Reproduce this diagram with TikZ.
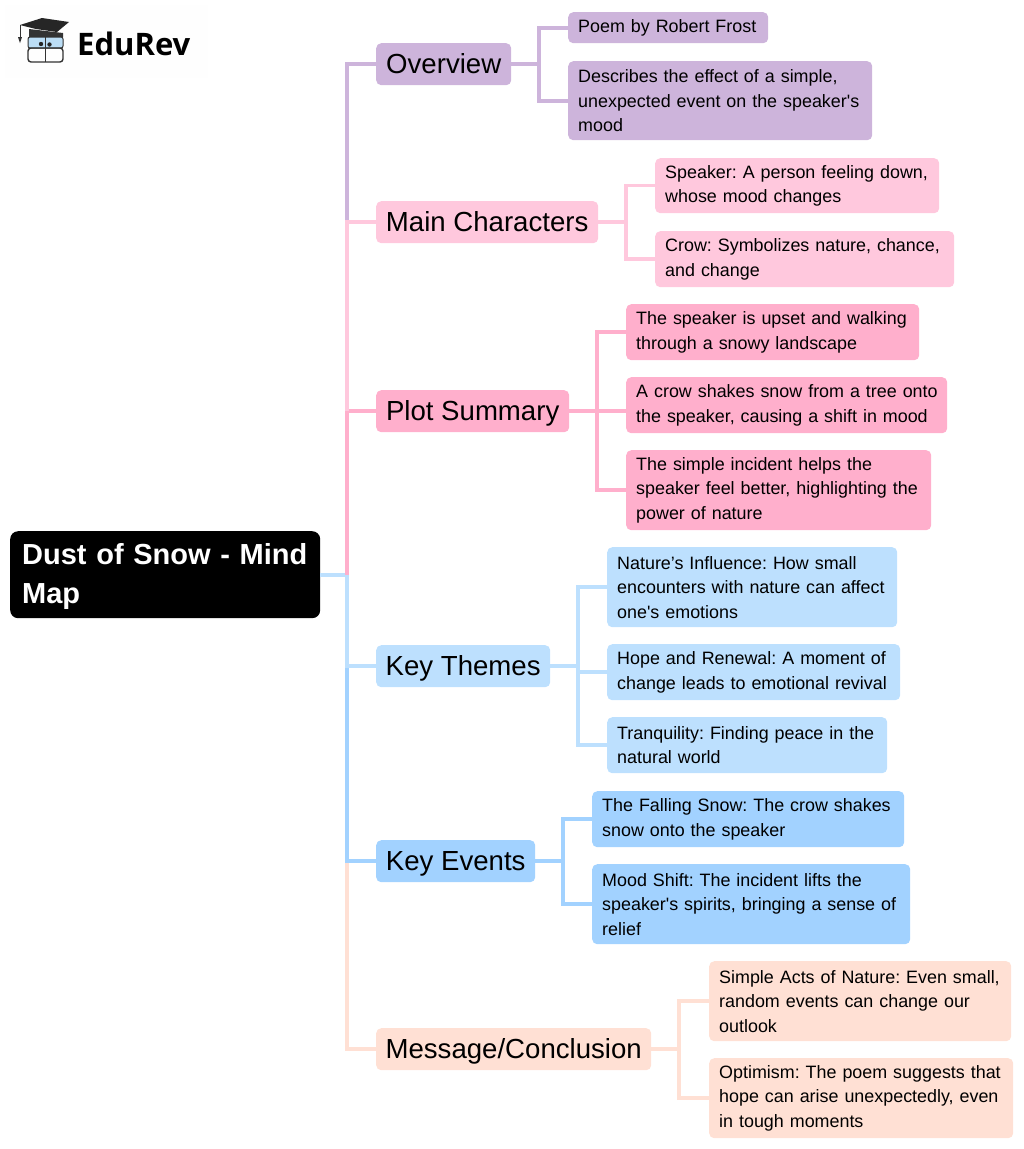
\documentclass[tikz,border=0pt]{standalone}
\usepackage{fontspec}
\setmainfont{Liberation Sans}
\newfontfamily\plainfont{Liberation Sans}
\newfontfamily\logofont{Open Sans}
\frenchspacing
\definecolor{cpurple}{HTML}{CDB4DB}
\definecolor{cpink}{HTML}{FFC8DD}
\definecolor{chot}{HTML}{FFAFCC}
\definecolor{clight}{HTML}{BDE0FE}
\definecolor{cblue}{HTML}{A2D2FF}
\definecolor{cpeach}{HTML}{FFE0D4}
\definecolor{cglass}{HTML}{BBDDF5}
\definecolor{clogo}{HTML}{FEFEFE}
\tikzset{
  bx/.style n args={2}{anchor=north west,inner xsep=0pt,inner ysep=0pt,rounded corners=5pt,
     text width=#1pt,minimum height=#2pt,align=left,execute at begin node={\leftskip=10pt}},
  tbx/.style n args={2}{anchor=north west,inner xsep=0pt,inner ysep=0pt,rounded corners=5pt,
     minimum width=#1pt,minimum height=#2pt,text height=20pt,text depth=1pt},
  leaf/.style={font=\plainfont\frenchspacing\fontsize{17.9}{24.4}\selectfont,text=black},
  topic/.style={font=\plainfont\fontsize{27.6}{32}\selectfont,text=black},
  rootbox/.style={anchor=north west,inner xsep=12pt,inner ysep=0pt,rounded corners=8pt,
     text width=286pt,minimum height=87pt,align=left,
     fill=black,text=white,font=\plainfont\frenchspacing\fontsize{29}{38.5}\selectfont\bfseries},
  link/.style={line width=#1,miter limit=10},
  link/.default=4pt,
}
\begin{document}
\begin{tikzpicture}[x=1pt,y=-1pt]
\useasboundingbox (0,0) rectangle (1024,1149);
% logo
\fill[clogo] (5,5) rectangle (208,78);
\fill[black!85] (20,25) -- (42,18) -- (69,22) -- (57,32) -- (36,29) -- cycle;
\fill[black!80] (29,29) -- (63,33) -- (63,37) -- (29,37) -- cycle;
\draw[black!80,line width=1pt] (20,25) -- (20,38);
\fill[black!80] (18,37) -- (22,37) -- (20,43) -- cycle;
\draw[black!80,fill=cglass,line width=1pt,rounded corners=2pt] (28,37) rectangle (63,48);
\draw[black!80,line width=1.4pt,rounded corners=3pt] (28,48) rectangle (63,62);
\draw[black!80,line width=1pt] (45,37) -- (45,62);
\fill[black!85] (41,44) circle (2.2pt) (49.5,44.5) circle (2.2pt);
\node[anchor=west,inner sep=0pt,font=\logofont\bfseries\fontsize{31}{36}\selectfont,text=black] (logo) at (77,44) {EduRev};
% root
\node[rootbox] (root) at (10,531) {\rule{0pt}{25pt}Dust of Snow - Mind\\Map};
% topics
\node[tbx={135}{42},topic,fill=cpurple] (ov) at (376,43) {Overview};
\node[tbx={222}{42},topic,fill=cpink] (mc) at (376,201) {Main Characters};
\node[tbx={193}{42},topic,fill=chot] (ps) at (376,390) {Plot Summary};
\node[tbx={174}{42},topic,fill=clight] (kt) at (376,645) {Key Themes};
\node[tbx={159}{42},topic,fill=cblue] (ke) at (376,840) {Key Events};
\node[tbx={275}{42},topic,fill=cpeach] (mg) at (376,1028) {Message/Conclusion};
% leaves
\node[bx={200}{31},leaf,fill=cpurple] (ov1) at (568,12) {Poem by Robert Frost};
\node[bx={304}{79},leaf,fill=cpurple] (ov2) at (568,61) {Describes the effect of a simple,\\unexpected event on the speaker's\\mood};
\node[bx={284}{55},leaf,fill=cpink] (mc1) at (655,158) {Speaker: A person feeling down,\\whose mood changes};
\node[bx={299}{56},leaf,fill=cpink] (mc2) at (655,231) {Crow: Symbolizes nature, chance,\\and change};
\node[bx={293}{56},leaf,fill=chot] (ps1) at (626,304) {The speaker is upset and walking\\through a snowy landscape};
\node[bx={321}{56},leaf,fill=chot] (ps2) at (626,377) {A crow shakes snow from a tree onto\\the speaker, causing a shift in mood};
\node[bx={305}{80},leaf,fill=chot] (ps3) at (626,450) {The simple incident helps the\\speaker feel better, highlighting the\\power of nature};
\node[bx={290}{80},leaf,fill=clight] (kt1) at (607,547) {Nature’s Influence: How small\\encounters with nature can affect\\one's emotions};
\node[bx={293}{56},leaf,fill=clight] (kt2) at (607,644) {Hope and Renewal: A moment of\\change leads to emotional revival};
\node[bx={280}{56},leaf,fill=clight] (kt3) at (607,717) {Tranquility: Finding peace in the\\natural world};
\node[bx={312}{56},leaf,fill=cblue] (ke1) at (592,791) {The Falling Snow: The crow shakes\\snow onto the speaker};
\node[bx={318}{80},leaf,fill=cblue] (ke2) at (592,864) {Mood Shift: The incident lifts the\\speaker's spirits, bringing a sense of\\relief};
\node[bx={302}{80},leaf,fill=cpeach] (mg1) at (709,961) {Simple Acts of Nature: Even small,\\random events can change our\\outlook};
\node[bx={304}{80},leaf,fill=cpeach] (mg2) at (709,1058) {Optimism: The poem suggests that\\hope can arise unexpectedly, even\\in tough moments};
% trunk connectors, later ones lying over earlier ones
\coordinate (trunk) at (347,574);
\draw[link,cpurple] (root.east) -- (root.east -| trunk) |- (ov.west);
\draw[link,cpeach] (root.east) -- (root.east -| trunk) |- (mg.west);
\draw[link,cblue] (root.east) -- (root.east -| trunk) |- (ke.west);
\draw[link,clight] (root.east) -- (root.east -| trunk) |- (kt.west);
\draw[link,chot] (root.east -| trunk) |- (ps.west);
\draw[link,cpink] (ps.west -| trunk) |- (mc.west);
% branch elbows
\coordinate (eov) at (539,0);
\coordinate (emc) at (626,0);
\coordinate (eps) at (597,0);
\coordinate (ekt) at (578,0);
\coordinate (eke) at (563,0);
\coordinate (emg) at (679,0);
\draw[link,cpurple] (ov.east) -- (ov.east -| eov) |- (ov1.west);
\draw[link,cpurple] (ov.east -| eov) |- (ov2.west);
\draw[link=3.5pt,cpink] (mc.east) -- (mc.east -| emc) |- (mc1.west);
\draw[link=3.5pt,cpink] (mc.east -| emc) |- (mc2.west);
\draw[link,chot] (ps.east) -- (ps.east -| ps2.west);
\draw[link,chot] (ps.east -| eps) |- (ps1.west);
\draw[link,chot] (ps.east -| eps) |- (ps3.west);
\draw[link,clight] (kt.east) -- (kt.east -| ekt) |- (kt1.west);
\draw[link,clight] (kt.east -| ekt) |- (kt2.west);
\draw[link,clight] (kt.east -| ekt) |- (kt3.west);
\draw[link,cblue] (ke.east) -- (ke.east -| eke) |- (ke1.west);
\draw[link,cblue] (ke.east -| eke) |- (ke2.west);
\draw[link=3.5pt,cpeach] (mg.east) -- (mg.east -| emg) |- (mg1.west);
\draw[link=3.5pt,cpeach] (mg.east -| emg) |- (mg2.west);
\end{tikzpicture}
\end{document}
